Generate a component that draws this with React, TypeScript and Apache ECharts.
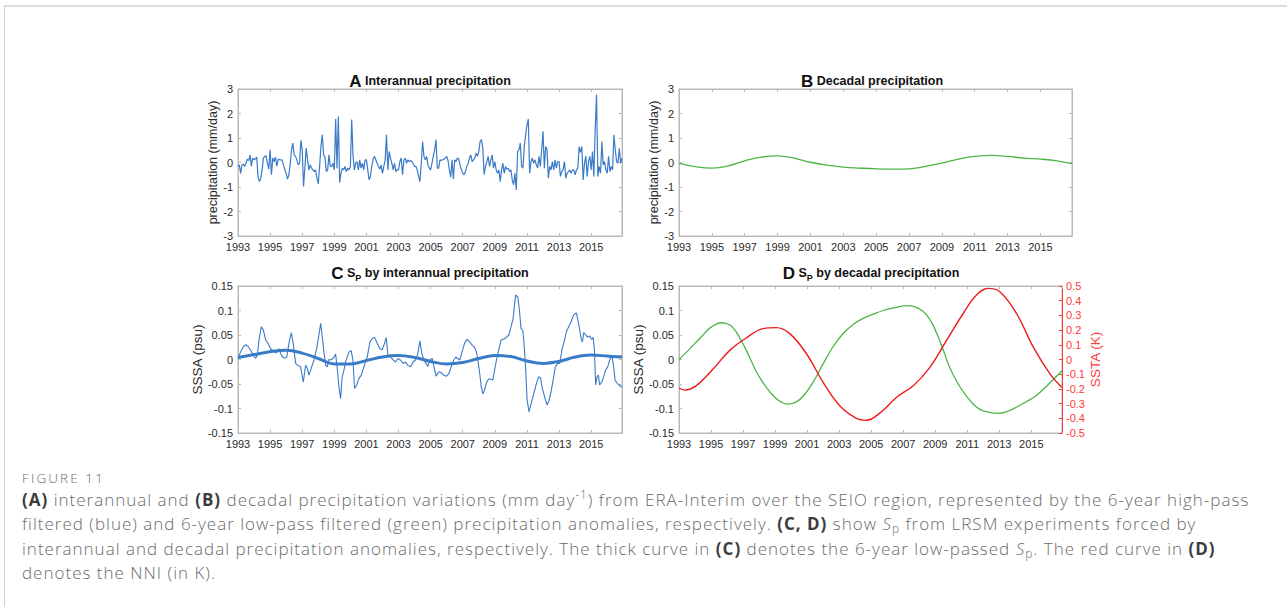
import React, { useEffect, useRef } from 'react';
import * as echarts from 'echarts';

const YEAR_MIN = 1993;
const YEAR_MAX = 2016.92;
const YEAR_TICK_STEP = 2;

// (A) interannual precipitation, monthly values from Jan 1993 (mm/day)
const precipInterannual: number[] = [
  -0.14, -0.10, -0.44, -0.10, -0.07, -0.16, -0.03, 0.14, 0.08, 0.31, -0.15, 0.18,
  0.11, 0.15, 0.22, -0.60, -0.78, -0.64, -0.30, 0.18, 0.25, 0.27, -0.03, -0.27,
  0.52, -0.50, 0.18, 0.04, 0.22, -0.15, 0.14, 0.11, 0.11, 0.10, -0.10, -0.30,
  -0.44, -0.68, -0.50, -0.10, 0.52, 0.79, 0.31, 0.25, 0.11, -0.10, -0.03, 0.90,
  0.52, -0.98, -0.20, 0.59, 0.11, -0.30, -0.10, -0.23, -0.30, -0.37, -0.30, -0.64,
  -0.87, -0.16, 0.65, 1.13, 0.31, 0.22, -0.37, -0.30, 0.31, -0.16, -0.16, -0.03,
  -0.30, 1.77, -0.23, 1.88, -0.82, -0.44, -0.23, -0.30, -0.16, -0.37, -0.23, -0.30,
  -0.16, 1.75, 0.27, -0.30, -0.03, 0.04, -0.30, 0.11, -0.23, -0.03, -0.30, 0.11,
  0.11, -0.30, -0.71, -0.57, -0.16, 0.14, 0.25, 0.11, -0.03, -0.16, -0.27, -0.10,
  -0.44, -0.16, 0.11, 1.13, -0.30, 0.45, 0.18, -0.03, -0.30, -0.03, -0.37, -0.30,
  -0.30, 0.04, 0.18, -0.50, 0.11, 0.18, -0.03, 0.11, 0.04, 0.08, 0.04, -0.05,
  -0.16, -0.16, -0.30, -0.57, -0.78, -0.03, 0.86, 0.25, 0.11, 0.25, -0.10, -0.23,
  -0.30, -0.03, 0.27, 0.52, 0.93, -0.23, -0.23, 0.11, 0.08, 0.11, 0.14, 0.18,
  0.25, 0.08, -0.30, -0.60, 0.11, -0.68, 0.11, 0.04, 0.18, 0.14, -0.10, -0.30,
  -0.44, -0.50, -0.37, -0.16, -0.05, 0.18, 0.31, 0.04, 0.11, 0.18, 0.38, 0.25,
  0.45, 0.86, 0.93, 0.59, -0.50, -0.16, 0.04, 0.25, -0.16, 0.11, 0.31, -0.23,
  0.04, -0.30, -0.44, -0.30, -0.78, -0.30, -0.03, -0.44, -0.16, -0.27, -0.23, -0.37,
  -0.30, -0.71, -0.91, -0.44, -1.12, 0.45, 0.52, 0.79, -0.16, -0.23, 0.65, 1.13,
  1.54, 1.77, -0.44, 0.04, 0.18, -0.03, 0.11, -0.10, -0.23, 0.25, -0.16, 0.52,
  1.27, -0.23, 0.65, 0.52, -0.64, -0.16, -0.30, 0.04, -0.30, 0.11, -0.23, 0.04,
  0.04, -0.57, -0.37, -0.30, 0.04, -0.64, -0.44, -0.37, -0.30, -0.44, -0.30, -0.30,
  -0.50, -0.30, -0.23, 0.65, 0.41, 0.65, -0.71, -0.03, 0.27, -0.57, 0.04, 0.25,
  -0.30, 0.45, -0.57, 1.34, 2.77, -0.57, -0.16, -0.44, 0.86, -0.10, 0.04, -0.30,
  -0.44, 0.25, -0.37, -0.16, -0.30, 1.13, 0.52, 0.04, -0.03, 0.58, -0.03, 0.18,
];

// (B) decadal precipitation [year, mm/day]
const precipDecadal: [number, number][] = [
  [1993, -0.04], [1994, -0.17], [1995, -0.23], [1996, -0.14], [1997, 0.07], [1998, 0.22],
  [1999, 0.27], [2000, 0.18], [2001, 0.01], [2002, -0.11], [2003, -0.19], [2004, -0.23],
  [2005, -0.26], [2006, -0.27], [2007, -0.26], [2008, -0.16], [2009, -0.03], [2010, 0.14],
  [2011, 0.25], [2012, 0.29], [2013, 0.25], [2014, 0.18], [2015, 0.14], [2016, 0.07],
  [2016.92, -0.05],
];

// (C) Sp by interannual precipitation [year, psu]
const spInterannual: [number, number][] = [
  [1993.00, 0.002], [1993.17, 0.016], [1993.33, 0.026], [1993.48, 0.030], [1993.62, 0.027], [1993.79, 0.019],
  [1993.95, 0.009], [1994.10, 0.002], [1994.20, 0.009], [1994.31, 0.040], [1994.45, 0.067], [1994.58, 0.060],
  [1994.72, 0.040], [1994.87, 0.033], [1995.03, 0.022], [1995.24, 0.016], [1995.41, 0.014], [1995.55, 0.022],
  [1995.70, 0.009], [1995.86, 0.003], [1996.03, 0.004], [1996.17, 0.033], [1996.32, 0.055], [1996.44, 0.033],
  [1996.59, -0.008], [1996.73, -0.012], [1996.90, -0.015], [1997.07, -0.046], [1997.21, -0.012], [1997.32, -0.018],
  [1997.42, -0.032], [1997.56, -0.018], [1997.73, -0.001], [1997.90, 0.022], [1998.04, 0.050], [1998.15, 0.074],
  [1998.25, 0.046], [1998.35, 0.016], [1998.46, -0.012], [1998.56, -0.015], [1998.66, 0.000], [1998.81, -0.001],
  [1998.98, 0.005], [1999.08, 0.011], [1999.18, -0.018], [1999.29, -0.056], [1999.39, -0.080], [1999.49, -0.035],
  [1999.60, -0.022], [1999.70, -0.005], [1999.80, 0.005], [1999.93, 0.016], [2000.05, 0.018], [2000.16, -0.001],
  [2000.26, -0.059], [2000.39, -0.052], [2000.53, -0.039], [2000.68, -0.032], [2000.84, -0.015], [2001.05, 0.005],
  [2001.22, 0.036], [2001.36, 0.043], [2001.51, 0.045], [2001.67, 0.033], [2001.84, 0.022], [2001.98, 0.020],
  [2002.13, 0.033], [2002.23, 0.045], [2002.34, 0.009], [2002.50, 0.005], [2002.67, -0.001], [2002.81, -0.005],
  [2002.96, 0.002], [2003.12, -0.001], [2003.29, -0.008], [2003.44, -0.005], [2003.58, -0.012], [2003.75, -0.015],
  [2003.91, -0.005], [2004.06, -0.001], [2004.20, 0.012], [2004.33, 0.038], [2004.45, 0.012], [2004.58, 0.000],
  [2004.70, -0.008], [2004.83, -0.014], [2004.95, -0.001], [2005.10, 0.002], [2005.20, -0.014], [2005.34, -0.034],
  [2005.51, -0.025], [2005.66, -0.027], [2005.82, -0.032], [2005.99, -0.034], [2006.13, -0.029], [2006.28, -0.015],
  [2006.44, -0.001], [2006.57, 0.005], [2006.69, 0.002], [2006.82, -0.001], [2006.96, 0.016], [2007.11, 0.033],
  [2007.27, 0.041], [2007.44, 0.036], [2007.59, 0.029], [2007.73, 0.025], [2007.85, 0.016], [2007.94, -0.001],
  [2008.06, -0.029], [2008.15, -0.056], [2008.25, -0.070], [2008.35, -0.063], [2008.46, -0.049], [2008.56, -0.042],
  [2008.66, -0.039], [2008.77, -0.041], [2008.87, -0.042], [2008.98, -0.022], [2009.10, -0.001], [2009.24, 0.019],
  [2009.39, 0.040], [2009.56, 0.042], [2009.72, 0.045], [2009.87, 0.050], [2010.01, 0.067], [2010.14, 0.084],
  [2010.22, 0.111], [2010.30, 0.132], [2010.43, 0.128], [2010.53, 0.101], [2010.63, 0.063], [2010.74, 0.060],
  [2010.80, 0.040], [2010.90, -0.008], [2011.01, -0.083], [2011.13, -0.107], [2011.26, -0.090], [2011.42, -0.070],
  [2011.59, -0.049], [2011.73, -0.035], [2011.84, -0.037], [2011.94, -0.056], [2012.05, -0.070], [2012.15, -0.082],
  [2012.25, -0.093], [2012.38, -0.083], [2012.50, -0.066], [2012.63, -0.042], [2012.77, -0.015], [2012.92, -0.008],
  [2013.04, -0.008], [2013.19, 0.022], [2013.29, 0.033], [2013.46, 0.057], [2013.60, 0.067], [2013.75, 0.077],
  [2013.91, 0.091], [2014.08, 0.095], [2014.18, 0.080], [2014.29, 0.060], [2014.37, 0.043], [2014.45, 0.036],
  [2014.54, 0.055], [2014.66, 0.050], [2014.78, 0.046], [2014.91, 0.048], [2015.03, 0.041], [2015.12, 0.045],
  [2015.20, 0.022], [2015.28, -0.052], [2015.37, -0.035], [2015.45, -0.032], [2015.53, -0.052], [2015.66, -0.046],
  [2015.78, -0.035], [2015.90, -0.022], [2016.03, -0.015], [2016.15, -0.001], [2016.24, 0.005], [2016.32, 0.002],
  [2016.40, -0.015], [2016.49, -0.042], [2016.61, -0.048], [2016.73, -0.052], [2016.86, -0.056], [2016.92, -0.055],
];

// (C) thick curve: 6-year low-passed Sp [year, psu]
const spInterannualLow: [number, number][] = [
  [1993, 0.004], [1994, 0.010], [1995, 0.016], [1996, 0.019], [1997, 0.013], [1998, 0.002],
  [1999, -0.009], [2000, -0.009], [2001, -0.002], [2002, 0.005], [2003, 0.008], [2004, 0.004],
  [2005, -0.004], [2006, -0.009], [2007, -0.006], [2008, 0.002], [2009, 0.008], [2010, 0.006],
  [2011, -0.003], [2012, -0.008], [2013, -0.004], [2014, 0.005], [2015, 0.009], [2016, 0.007],
  [2016.92, 0.005],
];

// (D) Sp by decadal precipitation [year, psu]
const spDecadal: [number, number][] = [
  [1993, 0.000], [1993.5, 0.016], [1994, 0.033], [1994.5, 0.050], [1995, 0.066], [1995.65, 0.075],
  [1996.2, 0.070], [1996.6, 0.055], [1997, 0.032], [1997.4, 0.005], [1997.8, -0.023], [1998.2, -0.045],
  [1998.7, -0.067], [1999.2, -0.083], [1999.8, -0.091], [2000.3, -0.087], [2000.75, -0.075], [2001.4, -0.045],
  [2002, -0.009], [2002.6, 0.025], [2003.25, 0.053], [2003.9, 0.072], [2004.5, 0.084], [2005.1, 0.092],
  [2005.75, 0.100], [2006.5, 0.106], [2007.2, 0.110], [2007.7, 0.108], [2008.25, 0.098], [2008.7, 0.080],
  [2009.1, 0.053], [2009.5, 0.020], [2009.9, -0.016], [2010.4, -0.048], [2011, -0.077], [2011.5, -0.095],
  [2012, -0.105], [2012.9, -0.110], [2013.5, -0.106], [2014.1, -0.097], [2014.7, -0.086], [2015.3, -0.074],
  [2016, -0.053], [2016.92, -0.023],
];

// (D) NNI, SSTA [year, K]
const nni: [number, number][] = [
  [1993, -0.194], [1993.35, -0.208], [1994.08, -0.178], [1995.13, -0.064], [1996.17, 0.062], [1997.21, 0.148],
  [1998.25, 0.210], [1999.08, 0.217], [1999.92, 0.176], [2000.96, 0.039], [2002, -0.155], [2003.04, -0.315],
  [2004.08, -0.400], [2004.71, -0.413], [2005.54, -0.365], [2006.58, -0.258], [2007.63, -0.178], [2008.67, -0.053],
  [2009.71, 0.130], [2010.75, 0.313], [2011.58, 0.438], [2012.31, 0.484], [2013.04, 0.461], [2014.08, 0.313],
  [2015.13, 0.084], [2016.17, -0.098], [2016.92, -0.190],
];

const FONT = '"Liberation Sans", Arial, Helvetica, sans-serif';
const AXIS_GRAY = '#b8b8b8';
const TICK_TEXT = '#2a2a2a';
const BLUE = '#3a7bc8';
const GREEN = '#4db545';
const RED = '#ee1c1c';
const RED_AXIS = '#ff3a3a';
const TICK_FONT = 11;

const grids = [
  { left: 238, top: 89, width: 384, height: 147 },
  { left: 679, top: 89, width: 393, height: 147 },
  { left: 238, top: 286, width: 384, height: 147 },
  { left: 679, top: 286, width: 383, height: 147 },
];

function xAxisPair(gridIndex: number) {
  const base = {
    type: 'value',
    gridIndex,
    min: YEAR_MIN,
    max: YEAR_MAX,
    interval: YEAR_TICK_STEP,
    splitLine: { show: false },
    axisLine: { show: true, onZero: false, lineStyle: { color: AXIS_GRAY, width: 1 } },
    axisTick: { show: true, inside: true, length: 3, lineStyle: { color: AXIS_GRAY } },
  };
  return [
    {
      ...base,
      position: 'bottom',
      axisLabel: {
        show: true,
        color: TICK_TEXT,
        fontSize: TICK_FONT,
        fontFamily: FONT,
        margin: 5,
        showMaxLabel: false,
        formatter: (v: number) => String(Math.round(v)),
      },
    },
    { ...base, position: 'top', axisLabel: { show: false } },
  ];
}

function yAxisLeft(gridIndex: number, min: number, max: number, interval: number, name: string, nameGap: number, nameSize: number) {
  return {
    type: 'value',
    gridIndex,
    min,
    max,
    interval,
    position: 'left',
    name,
    nameLocation: 'middle',
    nameRotate: 90,
    nameGap,
    nameTextStyle: { color: TICK_TEXT, fontSize: nameSize, fontFamily: FONT },
    splitLine: { show: false },
    axisLine: { show: true, onZero: false, lineStyle: { color: AXIS_GRAY } },
    axisTick: { show: true, inside: true, length: 3, lineStyle: { color: AXIS_GRAY } },
    axisLabel: { show: true, color: TICK_TEXT, fontSize: TICK_FONT, fontFamily: FONT, margin: 5 },
  };
}

function yAxisRightPlain(gridIndex: number, min: number, max: number, interval: number) {
  return {
    type: 'value',
    gridIndex,
    min,
    max,
    interval,
    position: 'right',
    splitLine: { show: false },
    axisLine: { show: true, onZero: false, lineStyle: { color: AXIS_GRAY } },
    axisTick: { show: true, inside: true, length: 3, lineStyle: { color: AXIS_GRAY } },
    axisLabel: { show: false },
  };
}

function titleText(cx: number, cy: number, letter: string, body: string, sub?: string, rest?: string) {
  const text = sub
    ? `{L|${letter}} {t|${body}}{sub|${sub}} {t|${rest}}`
    : `{L|${letter}} {t|${body}}`;
  return {
    type: 'text',
    x: cx,
    y: cy,
    style: {
      text,
      align: 'center',
      verticalAlign: 'middle',
      fontFamily: FONT,
      fontWeight: 'bold',
      fontSize: 12.5,
      fill: '#111',
      rich: {
        L: { fontFamily: FONT, fontWeight: 'bold', fontSize: 17, lineHeight: 18, color: '#111' },
        t: { fontFamily: FONT, fontWeight: 'bold', fontSize: 12.5, lineHeight: 18, color: '#151515' },
        sub: { fontFamily: FONT, fontWeight: 'bold', fontSize: 9, lineHeight: 9, verticalAlign: 'bottom', color: '#151515' },
      },
    },
  };
}

const monthly = precipInterannual.map((v, i) => [YEAR_MIN + i / 12, v]);

const option = {
  animation: false,
  backgroundColor: 'transparent',
  grid: grids.map((g) => ({ ...g, show: true, borderColor: AXIS_GRAY, borderWidth: 1, backgroundColor: 'transparent', containLabel: false })),
  xAxis: [...xAxisPair(0), ...xAxisPair(1), ...xAxisPair(2), ...xAxisPair(3)],
  yAxis: [
    yAxisLeft(0, -3, 3, 1, 'precipitation (mm/day)', 12, 12.5),
    yAxisRightPlain(0, -3, 3, 1),
    yAxisLeft(1, -3, 3, 1, 'precipitation (mm/day)', 12, 12.5),
    yAxisRightPlain(1, -3, 3, 1),
    yAxisLeft(2, -0.15, 0.15, 0.05, 'SSSA (psu)', 28, 13.5),
    yAxisRightPlain(2, -0.15, 0.15, 0.05),
    yAxisLeft(3, -0.15, 0.15, 0.05, 'SSSA (psu)', 30, 13.5),
    {
      type: 'value',
      gridIndex: 3,
      min: -0.5,
      max: 0.5,
      interval: 0.1,
      position: 'right',
      name: 'SSTA (K)',
      nameLocation: 'middle',
      nameRotate: 90,
      nameGap: 23,
      nameTextStyle: { color: RED_AXIS, fontSize: 13.5, fontFamily: FONT },
      splitLine: { show: false },
      axisLine: { show: true, onZero: false, lineStyle: { color: RED_AXIS } },
      axisTick: { show: true, inside: true, length: 3, lineStyle: { color: RED_AXIS } },
      axisLabel: { show: true, color: RED_AXIS, fontSize: TICK_FONT, fontFamily: FONT, margin: 4 },
    },
  ],
  series: [
    {
      type: 'line', name: 'Interannual precipitation', xAxisIndex: 0, yAxisIndex: 0,
      data: monthly, showSymbol: false, lineStyle: { color: BLUE, width: 1.2 }, itemStyle: { color: BLUE },
    },
    {
      type: 'line', name: 'Decadal precipitation', xAxisIndex: 2, yAxisIndex: 2,
      data: precipDecadal, smooth: 0.4, showSymbol: false, lineStyle: { color: GREEN, width: 1.3 }, itemStyle: { color: GREEN },
    },
    {
      type: 'line', name: 'Sp interannual', xAxisIndex: 4, yAxisIndex: 4,
      data: spInterannual, showSymbol: false, lineStyle: { color: BLUE, width: 1.1 }, itemStyle: { color: BLUE },
    },
    {
      type: 'line', name: 'Sp interannual low-passed', xAxisIndex: 4, yAxisIndex: 4,
      data: spInterannualLow, smooth: 0.4, showSymbol: false, lineStyle: { color: BLUE, width: 3 }, itemStyle: { color: BLUE },
    },
    {
      type: 'line', name: 'Sp decadal', xAxisIndex: 6, yAxisIndex: 6,
      data: spDecadal, smooth: 0.4, showSymbol: false, lineStyle: { color: GREEN, width: 1.3 }, itemStyle: { color: GREEN },
    },
    {
      type: 'line', name: 'NNI', xAxisIndex: 6, yAxisIndex: 7,
      data: nni, smooth: 0.4, showSymbol: false, lineStyle: { color: RED, width: 1.4 }, itemStyle: { color: RED },
    },
  ],
  graphic: [
    titleText(430, 81, 'A', 'Interannual precipitation'),
    titleText(872, 81, 'B', 'Decadal precipitation'),
    titleText(430, 273, 'C', 'S', 'P', 'by interannual precipitation'),
    titleText(871, 273, 'D', 'S', 'P', 'by decadal precipitation'),
  ],
};

const CAPTION_FONT = '"Open Sans", "Noto Sans", sans-serif';
const CAPTION_COLOR = '#6a6a6a';
const BOLD_COLOR = '#3d3d3d';

const B = ({ children }: { children: React.ReactNode }) => (
  <span style={{ fontWeight: 700, color: BOLD_COLOR }}>{children}</span>
);
const Sp = () => (
  <span>
    <i>S</i>
    <sub style={{ fontSize: '0.7em', verticalAlign: '-0.25em', lineHeight: 0 }}>p</sub>
  </span>
);

function CaptionLine({ top, children }: { top: number; children: React.ReactNode }) {
  return (
    <div
      style={{
        position: 'absolute',
        left: 22,
        top,
        height: 24,
        lineHeight: '24px',
        fontSize: 17,
        letterSpacing: 1.0,
        fontWeight: 300,
        whiteSpace: 'nowrap',
        fontFamily: CAPTION_FONT,
        color: CAPTION_COLOR,
      }}
    >
      {children}
    </div>
  );
}

export default function App() {
  const ref = useRef<HTMLDivElement>(null);
  useEffect(() => {
    if (!ref.current) return;
    const chart = echarts.init(ref.current, null, { renderer: 'svg' });
    chart.setOption(option as any);
    return () => chart.dispose();
  }, []);

  return (
    <div style={{ position: 'absolute', left: 0, top: 0, width: 1287, height: 607, background: '#fff', overflow: 'hidden' }}>
      <div style={{ position: 'absolute', left: 4, top: 5, right: 0, height: 0, borderTop: '2px solid #dcdcdc' }} />
      <div style={{ position: 'absolute', left: 4, top: 5, bottom: 0, width: 0, borderLeft: '1px solid #d0d0d0' }} />
      <div ref={ref} style={{ position: 'absolute', left: 0, top: 0, width: 1287, height: 460 }} />
      <div
        style={{
          position: 'absolute',
          left: 22,
          top: 470,
          fontSize: 13.5,
          lineHeight: '16px',
          letterSpacing: 2.1,
          fontWeight: 300,
          fontFamily: CAPTION_FONT,
          color: '#6a6a6a',
          whiteSpace: 'nowrap',
        }}
      >
        FIGURE 11
      </div>
      <CaptionLine top={488}>
        <B>(A)</B> interannual and <B>(B)</B> decadal precipitation variations (mm day
        <sup style={{ fontSize: '0.7em', verticalAlign: '0.55em', lineHeight: 0 }}>-1</sup>) from ERA-Interim over the SEIO region,
        represented by the 6-year high-pass
      </CaptionLine>
      <CaptionLine top={512}>
        filtered (blue) and 6-year low-pass filtered (green) precipitation anomalies, respectively. <B>(C, D)</B> show <Sp /> from
        LRSM experiments forced by
      </CaptionLine>
      <CaptionLine top={537}>
        interannual and decadal precipitation anomalies, respectively. The thick curve in <B>(C)</B> denotes the 6-year
        low-passed <Sp />. The red curve in <B>(D)</B>
      </CaptionLine>
      <CaptionLine top={561}>denotes the NNI (in K).</CaptionLine>
    </div>
  );
}
